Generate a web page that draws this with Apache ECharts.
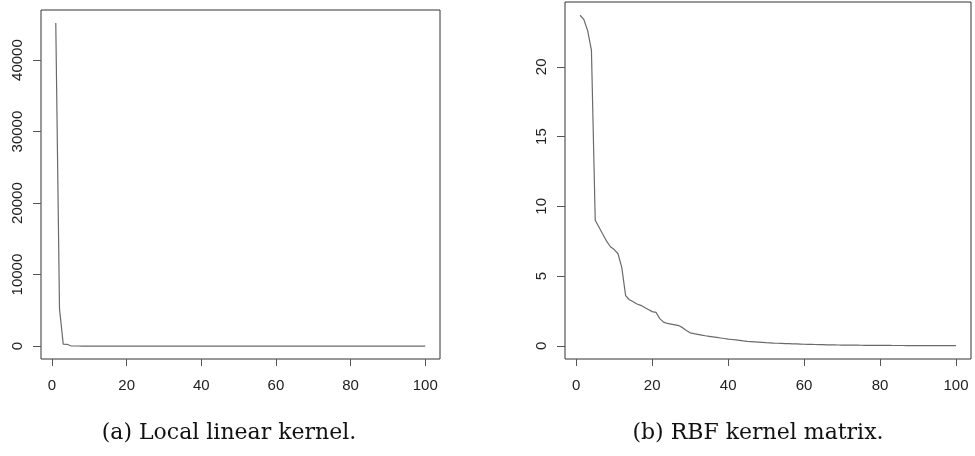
<!DOCTYPE html>
<html>
<head>
<meta charset="utf-8">
<script src="https://cdn.jsdelivr.net/npm/echarts@6/dist/echarts.min.js"></script>
<style>
html,body{margin:0;padding:0;background:#fff;}
#chart{width:975px;height:456px;}
</style>
</head>
<body>
<div id="chart"></div>
<script>
// Panel (a): Local linear kernel eigenvalues (index 1..100)
const linearValues = [
  45200, 5200, 280, 250, 40, 12, 8, 6, 5, 4,
  3, 3, 2, 2, 2, 2, 1, 1, 1, 1,
  1, 1, 1, 1, 1, 1, 1, 1, 1, 1,
  0, 0, 0, 0, 0, 0, 0, 0, 0, 0,
  0, 0, 0, 0, 0, 0, 0, 0, 0, 0,
  0, 0, 0, 0, 0, 0, 0, 0, 0, 0,
  0, 0, 0, 0, 0, 0, 0, 0, 0, 0,
  0, 0, 0, 0, 0, 0, 0, 0, 0, 0,
  0, 0, 0, 0, 0, 0, 0, 0, 0, 0,
  0, 0, 0, 0, 0, 0, 0, 0, 0, 0
];
// Panel (b): RBF kernel matrix eigenvalues (index 1..100)
const rbfValues = [
  23.7, 23.4, 22.6, 21.2, 9.0, 8.5, 8.0, 7.5, 7.1, 6.9,
  6.6, 5.6, 3.6, 3.3, 3.15, 3.0, 2.9, 2.75, 2.6, 2.45,
  2.4, 1.95, 1.7, 1.6, 1.55, 1.5, 1.45, 1.3, 1.1, 0.93,
  0.87, 0.82, 0.77, 0.72, 0.68, 0.64, 0.60, 0.56, 0.52, 0.48,
  0.45, 0.42, 0.39, 0.35, 0.32, 0.30, 0.28, 0.26, 0.24, 0.22,
  0.21, 0.19, 0.18, 0.17, 0.16, 0.15, 0.14, 0.13, 0.12, 0.11,
  0.10, 0.095, 0.09, 0.085, 0.08, 0.07, 0.065, 0.06, 0.055, 0.05,
  0.048, 0.045, 0.042, 0.04, 0.037, 0.035, 0.033, 0.03, 0.028, 0.026,
  0.025, 0.024, 0.022, 0.021, 0.02, 0.019, 0.018, 0.017, 0.016, 0.015,
  0.014, 0.013, 0.012, 0.011, 0.01, 0.009, 0.008, 0.007, 0.006, 0.005
];
const xTicks = [0, 20, 40, 60, 80, 100];
const linearYTicks = [0, 10000, 20000, 30000, 40000];
const rbfYTicks = [0, 5, 10, 15, 20];
const captions = ['(a) Local linear kernel.', '(b) RBF kernel matrix.'];

const toPoints = arr => arr.map((v, i) => [i + 1, v]);

const tickFont = {fontFamily: 'Liberation Sans', fontSize: 15, color: '#222', formatter: v => String(v)};
function xAxisCfg(gridIndex) {
  return {
    type: 'value', gridIndex: gridIndex, min: -2.96, max: 103.96, position: 'bottom',
    axisLine: {show: false, onZero: false},
    splitLine: {show: false},
    axisTick: {show: true, inside: false, length: 7, lineStyle: {color: '#555'}, customValues: xTicks},
    axisLabel: Object.assign({margin: 19, customValues: xTicks}, tickFont)
  };
}
function yAxisCfg(gridIndex, min, max, ticks) {
  return {
    type: 'value', gridIndex: gridIndex, min: min, max: max, position: 'left',
    axisLine: {show: false, onZero: false},
    splitLine: {show: false},
    axisTick: {show: true, inside: false, length: 8, lineStyle: {color: '#555'}, customValues: ticks},
    axisLabel: Object.assign({margin: 16, rotate: 90, customValues: ticks}, tickFont)
  };
}
const gridBase = {show: true, borderColor: '#333', borderWidth: 1, backgroundColor: 'transparent', containLabel: false, outerBoundsMode: 'none'};

const chart = echarts.init(document.getElementById('chart'), null, {renderer: 'canvas'});
chart.setOption({
  animation: false,
  backgroundColor: '#fff',
  grid: [
    Object.assign({left: 41, top: 10, width: 399, height: 349}, gridBase),
    Object.assign({left: 565, top: 2, width: 406, height: 357}, gridBase)
  ],
  xAxis: [xAxisCfg(0), xAxisCfg(1)],
  yAxis: [
    yAxisCfg(0, -1808, 47008, linearYTicks),
    yAxisCfg(1, -0.948, 24.65, rbfYTicks)
  ],
  series: [
    {type: 'line', xAxisIndex: 0, yAxisIndex: 0, data: toPoints(linearValues), showSymbol: false, symbol: 'none',
     lineStyle: {color: '#6a6a6a', width: 1.2}},
    {type: 'line', xAxisIndex: 1, yAxisIndex: 1, data: toPoints(rbfValues), showSymbol: false, symbol: 'none',
     lineStyle: {color: '#6a6a6a', width: 1.2}}
  ],
  graphic: [
    {type: 'text', x: 229, y: 433, style: {text: captions[0], font: '22px "DejaVu Serif"', fill: '#111', align: 'center', verticalAlign: 'middle'}},
    {type: 'text', x: 758, y: 433, style: {text: captions[1], font: '22px "DejaVu Serif"', fill: '#111', align: 'center', verticalAlign: 'middle'}}
  ]
});
</script>
</body>
</html>
